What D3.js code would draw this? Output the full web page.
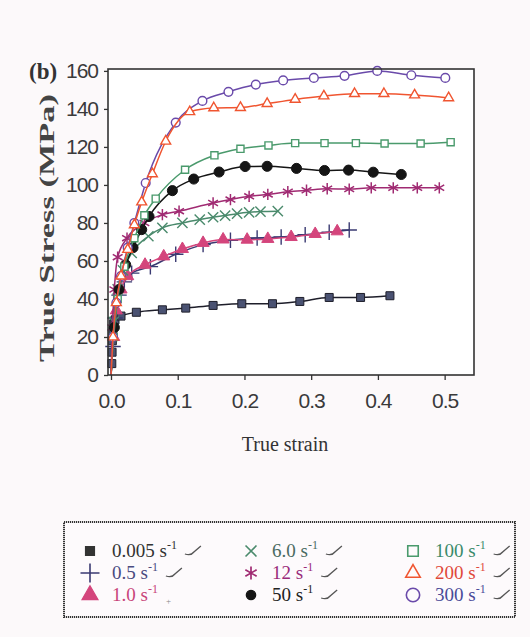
<!DOCTYPE html>
<html><head><meta charset="utf-8">
<script src="https://cdn.jsdelivr.net/npm/d3@7/dist/d3.min.js"></script>
<style>
html,body{margin:0;padding:0;background:#fcf9fa;}
svg{display:block;}
</style></head>
<body>
<svg id="c" width="530" height="637"></svg>
<script>
// ---- data ----
const rateLabels = ["0.005", "0.5", "1.0", "6.0", "12", "50", "100", "200", "300"];
const xTicks = [0, 0.1, 0.2, 0.3, 0.4, 0.5];
const yTicks = [0, 20, 40, 60, 80, 100, 120, 140, 160];

const s0005 = [[0,0],[0.0012,6],[0.0016,12],[0.002,18],[0.0028,23],[0.004,27],[0.006,29],[0.015,31],[0.038,33],[0.077,34.3],[0.112,35.2],[0.153,36.6],[0.196,37.5],[0.242,37.5],[0.283,38.7],[0.327,40.8],[0.374,40.8],[0.418,41.7]];
const s05 = [[0,0],[0.003,15],[0.006,30],[0.012,42],[0.02,49],[0.031,53.6],[0.059,57],[0.097,63.5],[0.138,68.6],[0.179,70.9],[0.219,72.1],[0.255,72.6],[0.291,73.8],[0.327,75.1],[0.357,76.3]];
const s1 = [[0,0],[0.004,20],[0.008,34],[0.015,45],[0.025,52],[0.051,58],[0.079,62.4],[0.107,66.3],[0.138,69.5],[0.168,71.3],[0.204,71.2],[0.235,71.6],[0.27,72.6],[0.306,74.2],[0.339,75.6]];
const s6 = [[0,0],[0.004,28],[0.01,45],[0.018,55],[0.031,64.2],[0.056,73],[0.077,77.4],[0.107,80],[0.133,81.8],[0.153,83],[0.171,83.9],[0.189,84.9],[0.207,85.6],[0.224,86],[0.25,86.2]];
const s12 = [[0,0],[0.002,25],[0.005,45],[0.01,62],[0.024,72],[0.05,80],[0.077,84.4],[0.102,86.2],[0.153,90.5],[0.179,92.3],[0.207,94],[0.235,95],[0.265,96.4],[0.293,97.2],[0.324,98],[0.357,97.8],[0.39,98.5],[0.423,98.5],[0.459,98.5],[0.492,98.5]];
const s50 = [[0,0],[0.005,25],[0.012,45],[0.022,58],[0.033,67],[0.046,76.5],[0.057,83.4],[0.092,97],[0.124,103.1],[0.162,106.8],[0.201,109.7],[0.234,109.8],[0.278,108.7],[0.32,107.6],[0.356,107.8],[0.393,106.7],[0.435,105.5]];
const s100 = [[0,0],[0.004,20],[0.01,40],[0.02,57],[0.035,72],[0.05,84],[0.067,92.8],[0.111,108],[0.155,115.6],[0.194,119],[0.236,120.8],[0.276,122],[0.32,122],[0.367,122],[0.41,121.8],[0.464,121.8],[0.509,122.5]];
const s200 = [[0,0],[0.003,20],[0.008,38],[0.015,52],[0.025,66],[0.035,79],[0.046,91],[0.062,105.8],[0.082,123],[0.118,138.5],[0.154,140.5],[0.194,140.7],[0.234,142.8],[0.276,145],[0.319,146.8],[0.365,148],[0.409,148],[0.455,147.3],[0.506,145.8]];
const s300 = [[0,0],[0.003,20],[0.008,38],[0.015,52],[0.025,67],[0.035,80],[0.052,101],[0.097,132.8],[0.137,144.2],[0.176,149],[0.217,152.8],[0.258,155],[0.304,156.3],[0.35,157.4],[0.399,160],[0.45,157.7],[0.501,156.3]];

const seriesData = [s0005, s05, s1, s6, s12, s50, s100, s200, s300];

// ---- styles ----
const lineColors = ["#1e1e2a","#3a3a72","#d4457c","#4a8a6c","#a02a72","#151515","#4a9a6c","#f05530","#6a4aaa"];
const textColors = ["#333333","#4a4a80","#c8457a","#4a6a62","#9a2a7a","#222222","#3a8a6a","#e0483a","#4a4a98"];
const sym = [
  {t:d3.symbolSquare, s:64, fill:"#4a5272", stroke:"#1e1e2a", sw:1},
  {t:d3.symbolPlus, s:80, fill:"none", stroke:"#3a3a72", sw:1.4},
  {t:d3.symbolTriangle, s:64, fill:"#d4457c", stroke:"#d4457c", sw:1},
  {t:d3.symbolTimes, s:70, fill:"none", stroke:"#4a8a6c", sw:1.4},
  {t:d3.symbolAsterisk, s:90, fill:"none", stroke:"#a02a72", sw:1.5},
  {t:d3.symbolCircle, s:80, fill:"#151515", stroke:"#151515", sw:1},
  {t:d3.symbolSquare2, s:64, fill:"#fff", stroke:"#4a9a6c", sw:1.4},
  {t:d3.symbolTriangle2, s:70, fill:"#fff", stroke:"#f05530", sw:1.4},
  {t:d3.symbolCircle, s:60, fill:"#fff", stroke:"#6a4aaa", sw:1.4}
];

const svg = d3.select("#c");
const x = d3.scaleLinear().domain([-0.0045, 0.544]).range([108, 474]);
const y = d3.scaleLinear().domain([0, 161]).range([375, 69]);

svg.append("rect").attr("x",108).attr("y",69).attr("width",366).attr("height",306).attr("fill","#ffffff");

const tickFont = "'Liberation Sans',Arial,sans-serif";

const xAxis = d3.axisBottom(x).tickValues(xTicks).tickFormat(d3.format(".1f")).tickSize(5).tickPadding(13);
const gx = svg.append("g").attr("transform","translate(0,375)").call(xAxis);
gx.select(".domain").remove();
gx.selectAll("line").attr("stroke","#333").attr("stroke-width",1.3);
gx.selectAll("text").attr("font-family",tickFont).attr("font-size",21).attr("letter-spacing","-1px").attr("fill","#3a3a3a");

const yAxis = d3.axisLeft(y).tickValues(yTicks).tickSize(4).tickPadding(6);
const gy = svg.append("g").attr("transform","translate(108,0)").call(yAxis);
gy.select(".domain").remove();
gy.selectAll("line").attr("stroke","#333").attr("stroke-width",1.3);
gy.selectAll("text").attr("font-family",tickFont).attr("font-size",21).attr("letter-spacing","-1px").attr("fill","#3a3a3a");

const line = d3.line().x(d=>x(d[0])).y(d=>y(d[1])).curve(d3.curveMonotoneX);
const order = [0,1,2,3,4,5,6,8,7];
order.forEach(i=>{
  const g = svg.append("g");
  g.append("path").attr("d", line(seriesData[i])).attr("fill","none")
    .attr("stroke", lineColors[i]).attr("stroke-width",1.5);
  const st = sym[i];
  const sg = d3.symbol().type(st.t).size(st.s);
  g.selectAll("path.m").data(seriesData[i].slice(1)).join("path").attr("class","m")
    .attr("transform", d=>`translate(${x(d[0])},${y(d[1])})`)
    .attr("d", sg()).attr("fill", st.fill).attr("stroke", st.stroke).attr("stroke-width", st.sw);
});

svg.append("rect").attr("x",108).attr("y",69).attr("width",366).attr("height",306)
  .attr("fill","none").attr("stroke","#333").attr("stroke-width",1.6);

svg.append("text").attr("x",285).attr("y",451).attr("text-anchor","middle")
  .attr("font-family","'Liberation Serif','Times New Roman',serif").attr("font-size",20).attr("fill","#333")
  .text("True strain");
svg.append("text").attr("transform","translate(54,228) rotate(-90)").attr("text-anchor","middle")
  .attr("font-family","'Liberation Serif','Times New Roman',serif").attr("font-size",20).attr("font-weight","bold")
  .attr("fill","#444").attr("textLength",268).attr("lengthAdjust","spacingAndGlyphs")
  .text("True Stress (MPa)");
svg.append("text").attr("x",29).attr("y",79)
  .attr("font-family","'Liberation Serif','Times New Roman',serif").attr("font-size",23).attr("font-weight","bold")
  .attr("fill","#333").text("(b)");

// legend
svg.append("rect").attr("x",64).attr("y",522).attr("width",451).attr("height",95)
  .attr("fill","#fdfafc").attr("stroke","#333").attr("stroke-width",2).attr("stroke-dasharray","1.2,0.8");
const colMx = [90, 251, 413];
const colTx = [112, 272, 435];
const rowY = [551, 573, 595];
rateLabels.forEach((lab,i)=>{
  const c = Math.floor(i/3), r = i%3;
  const st = sym[i];
  const lsz = [80,120,110,80,120,70,140,150,140][i];
  svg.append("path").attr("transform",`translate(${colMx[c]},${rowY[r]})`)
    .attr("d", d3.symbol().type(st.t).size(lsz)())
    .attr("fill", i===0?"#333":(i>=6?"none":st.fill)).attr("stroke", i===0?"#333":st.stroke).attr("stroke-width", st.sw+0.2);
  const t = svg.append("text").attr("x",colTx[c]).attr("y",rowY[r]+6)
    .attr("font-family","'Liberation Serif','Times New Roman',serif").attr("font-size",19).attr("fill",textColors[i]);
  t.append("tspan").text(lab+" s");
  t.append("tspan").attr("dy",-8).attr("font-size",12).text("-1");
  const w = t.node().getComputedTextLength();
  const ix = colTx[c] + w + 8;
  if (i===2) {
    svg.append("text").attr("x",ix).attr("y",rowY[r]+9).attr("font-size",9).attr("fill","#888").text("+");
  } else {
    svg.append("path").attr("transform",`translate(${ix},${rowY[r]})`)
      .attr("d","M0,3 Q6,5 9,1 L16,-5").attr("fill","none").attr("stroke","#555").attr("stroke-width",1.3);
  }
});
</script>
</body></html>
